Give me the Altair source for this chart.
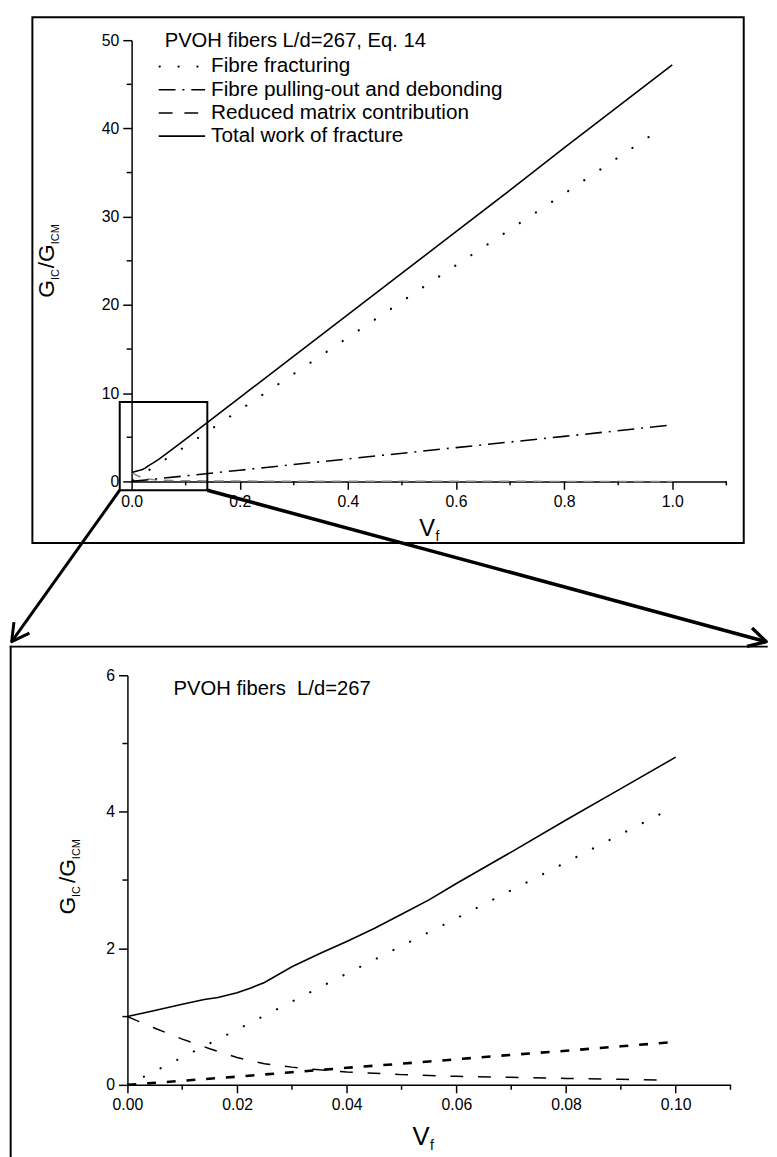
import math
import altair as alt
import pandas as pd

# ---------------- values ----------------
# upper panel (Vf from 0 to 1)
top_total_vf = [0.0, 0.005, 0.01, 0.015, 0.02, 0.025, 0.03, 0.04, 0.05, 0.07, 0.1, 0.2, 0.3, 0.4, 0.5, 0.6, 0.7, 0.8, 0.9, 1.0]
top_total_g = [1.0, 1.09, 1.18, 1.26, 1.35, 1.50, 1.73, 2.10, 2.50, 3.41, 4.80, 9.5, 14.2, 18.9, 23.6, 28.3, 33.0, 37.8, 42.5, 47.2]
top_frac_vf = [0.003, 0.1, 0.2, 0.4, 0.6, 0.8, 0.98]
top_frac_g = [0.12, 4.0, 8.1, 16.3, 24.5, 32.6, 40.0]
top_pull_vf = [0.0, 0.1, 0.2, 0.4, 0.6, 0.8, 1.0]
top_pull_g = [0.0, 0.63, 1.27, 2.55, 3.83, 5.1, 6.4]
top_red_vf = [0.0, 0.01, 0.02, 0.03, 0.05, 0.1, 0.2, 0.4, 0.7, 1.0]
top_red_g = [1.0, 0.67, 0.40, 0.26, 0.15, 0.07, 0.035, 0.015, 0.005, 0.0]
zoom_vf = [-0.022, 0.14]      # zoomed region marked on the upper panel
zoom_g = [-1.0, 9.0]
top_x_major = [0.0, 0.2, 0.4, 0.6, 0.8, 1.0]
top_x_minor = [0.1, 0.3, 0.5, 0.7, 0.9, 1.1]
top_y_major = [0, 10, 20, 30, 40, 50]
top_y_minor = [5, 15, 25, 35, 45]

# lower panel (Vf from 0 to 0.1)
bot_total_vf = [0.0, 0.005, 0.01, 0.014, 0.0165, 0.02, 0.0225, 0.025, 0.03, 0.035, 0.04, 0.045, 0.05, 0.055, 0.06, 0.07, 0.08, 0.09, 0.1]
bot_total_g = [1.0, 1.09, 1.18, 1.25, 1.28, 1.35, 1.42, 1.50, 1.73, 1.92, 2.10, 2.29, 2.50, 2.71, 2.95, 3.41, 3.88, 4.34, 4.80]
bot_frac_vf = [0.003, 0.02, 0.04, 0.06, 0.08, 0.098]
bot_frac_g = [0.12, 0.81, 1.63, 2.44, 3.26, 4.0]
bot_pull_vf = [0.0, 0.01, 0.02, 0.03, 0.04, 0.05, 0.06, 0.07, 0.08, 0.09, 0.1]
bot_pull_g = [0.0, 0.06, 0.12, 0.185, 0.25, 0.31, 0.375, 0.44, 0.50, 0.565, 0.63]
bot_red_vf = [0.0, 0.005, 0.01, 0.015, 0.02, 0.025, 0.03, 0.035, 0.04, 0.05, 0.06, 0.07, 0.08, 0.09, 0.098]
bot_red_g = [1.0, 0.83, 0.67, 0.53, 0.40, 0.31, 0.26, 0.22, 0.19, 0.15, 0.125, 0.11, 0.095, 0.082, 0.07]
bot_x_major = [0.0, 0.02, 0.04, 0.06, 0.08, 0.10]
bot_x_minor = [0.01, 0.03, 0.05, 0.07, 0.09, 0.11]
bot_y_major = [0, 2, 4, 6]
bot_y_minor = [1, 3, 5]

legend_labels = ["Fibre fracturing", "Fibre pulling-out and debonding",
                 "Reduced matrix contribution", "Total work of fracture"]
top_note = "PVOH fibers L/d=267, Eq. 14"
bot_note = "PVOH fibers\u00a0 L/d=267"

# ---------------- layout (page pixels) ----------------
FONT = "Liberation Sans"
W1, H1 = 602.5, 447.0
W2, H2 = 611.0, 415.0
B_OX, B_OY = 128.3, 675.7
T_OX = B_OX + (W2 - W1) / 2
T_OY = 32.3
SPACING = B_OY - (T_OY + H1)


def tx(p):
    return p - T_OX


def ty(p):
    return p - T_OY


def bx(p):
    return p - B_OX


def by(p):
    return p - B_OY


CHAR_W = {"G": 0.778, "I": 0.278, "C": 0.722, "M": 0.833, "/": 0.278, "V": 0.667, "f": 0.278}


def text_w(t, size):
    return sum(CHAR_W.get(c, 0.55) for c in t) * size


DUMMY = pd.DataFrame({"k": [0]})


def text_mark(text, x, y, size, align="left", baseline="middle", angle=0):
    return alt.Chart(DUMMY).mark_text(
        text=text, font=FONT, fontSize=size, align=align, baseline=baseline,
        angle=angle, color="black"
    ).encode(x=alt.value(x), y=alt.value(y))


def seg(x1, y1, x2, y2, width, dash=None, cap="butt", color="black"):
    kw = dict(color=color, strokeWidth=width, strokeCap=cap)
    if dash:
        kw["strokeDash"] = dash
    return alt.Chart(DUMMY).mark_rule(**kw).encode(
        x=alt.value(x1), y=alt.value(y1), x2=alt.value(x2), y2=alt.value(y2))


def axis_major(values, fmt, tick):
    return alt.Axis(values=values, format=fmt, tickSize=tick, title=None,
                    grid=False, labelFont=FONT, labelFontSize=16, labelColor="black",
                    labelPadding=4, labelFlush=False, domainColor="black", domainWidth=1.5,
                    tickColor="black", tickWidth=1.5)


def minor_x_ticks(vals, xenc_field, height, size):
    df = pd.DataFrame({"vf": vals})
    return alt.Chart(df).mark_rule(color="black", strokeWidth=1.5).encode(
        x=xenc_field, y=alt.value(height), y2=alt.value(height + size))


def minor_y_ticks(vals, yenc_field, size):
    df = pd.DataFrame({"g": vals})
    return alt.Chart(df).mark_rule(color="black", strokeWidth=1.5).encode(
        y=yenc_field, x=alt.value(0), x2=alt.value(-size))


def line(vf, g, xenc, yenc, width, dash=None, cap="butt", color="black"):
    kw = dict(color=color, strokeWidth=width, strokeCap=cap)
    if dash:
        kw["strokeDash"] = dash
    df = pd.DataFrame({"vf": vf, "g": g})
    return alt.Chart(df).mark_line(**kw).encode(x=xenc, y=yenc)


def rot_title(pieces, base_x, center_y, fx, fy):
    total = sum(text_w(t, s) + gap for t, s, sh, gap in pieces)
    y = center_y + total / 2
    out = []
    for t, s, sh, gap in pieces:
        y -= gap
        out.append(text_mark(t, fx(base_x + sh), fy(y), s, align="left",
                             baseline="alphabetic", angle=270))
        y -= text_w(t, s)
    return out


def vf_title(x0, base_y, vsize, fsize, fx, fy):
    return [text_mark("V", fx(x0), fy(base_y), vsize, baseline="alphabetic"),
            text_mark("f", fx(x0 + text_w("V", vsize) + 0.5), fy(base_y + 5), fsize,
                      baseline="alphabetic")]


ARROW = "M -1 -0.55 L 0 0 L -1 0.55"


def arrow_head(x, y, ang, width):
    return alt.Chart(DUMMY).mark_point(
        shape=ARROW, filled=False, size=1225, strokeWidth=width, angle=ang,
        strokeJoin="round", color="black", opacity=1
    ).encode(x=alt.value(x), y=alt.value(y))


NO_VIEW = alt.ViewBackground(stroke="transparent", strokeWidth=0, fill="white")

# ---------------- upper panel ----------------
xs_top = alt.Scale(domain=[0, 1.1], nice=False, zero=False)
ys_top = alt.Scale(domain=[0, 50], nice=False, zero=False)
tX = alt.X("vf:Q", scale=xs_top, axis=axis_major(top_x_major, ".1f", 8))
tY = alt.Y("g:Q", scale=ys_top, axis=axis_major(top_y_major, "d", 9))

top_layers = [
    line(top_red_vf, top_red_g, tX, tY, 1.5, dash=[10, 7], color="#8a8a8a"),
    line(top_pull_vf, top_pull_g, tX, tY, 1.6, dash=[17, 7, 2, 7]),
    line(top_frac_vf, top_frac_g, tX, tY, 2.2, dash=[0.1, 19.5], cap="round"),
    line(top_total_vf, top_total_g, tX, tY, 1.6),
    minor_x_ticks(top_x_minor, tX, H1, 4),
    minor_y_ticks(top_y_minor, tY, 5),
]

zoom_df = pd.DataFrame({"vf": [zoom_vf[0]], "vf2": [zoom_vf[1]], "g": [zoom_g[0]], "g2": [zoom_g[1]]})
zoom_rect = alt.Chart(zoom_df).mark_rect(fillOpacity=0, stroke="black", strokeWidth=2).encode(
    x=tX, x2="vf2:Q", y=tY, y2="g2:Q")

# arrows from the zoom box down to the lower panel
L_TIP = (11.0, 641.7)
R_TIP = (775.5, 641.7)
corner_l = pd.DataFrame({"vf": [zoom_vf[0]], "g": [zoom_g[0]]})
corner_r = pd.DataFrame({"vf": [zoom_vf[1]], "g": [zoom_g[0]]})
arrow_l = alt.Chart(corner_l).mark_rule(color="black", strokeWidth=3).encode(
    x=tX, y=tY, x2=alt.value(tx(L_TIP[0])), y2=alt.value(ty(L_TIP[1])))
arrow_r = alt.Chart(corner_r).mark_rule(color="black", strokeWidth=3.6).encode(
    x=tX, y=tY, x2=alt.value(tx(R_TIP[0])), y2=alt.value(ty(R_TIP[1])))
# corners in page pixels, for the arrow-head direction only
cl = (T_OX + (zoom_vf[0] / 1.1) * W1, T_OY + H1 * (1 - zoom_g[0] / 50))
cr = (T_OX + (zoom_vf[1] / 1.1) * W1, cl[1])
ang_l = math.degrees(math.atan2(L_TIP[1] - cl[1], L_TIP[0] - cl[0]))
ang_r = math.degrees(math.atan2(R_TIP[1] - cr[1], R_TIP[0] - cr[0]))
head_l = arrow_head(tx(L_TIP[0]), ty(L_TIP[1]), ang_l % 360, 3)
head_r = arrow_head(tx(R_TIP[0]), ty(R_TIP[1]), ang_r % 360, 3.4)

frame_top = alt.Chart(DUMMY).mark_rect(fillOpacity=0, stroke="black", strokeWidth=2).encode(
    x=alt.value(tx(32)), x2=alt.value(tx(752.7)), y=alt.value(ty(9)), y2=alt.value(ty(541.7)))

# legend block
leg = [text_mark(top_note, tx(166), ty(33.5), 20.5)]
rows = [59, 82.5, 106, 129.5]
leg.append(seg(tx(161), ty(rows[0]), tx(201), ty(rows[0]), 2.2, dash=[0.1, 19], cap="round"))
leg.append(seg(tx(160), ty(rows[1]), tx(207), ty(rows[1]), 1.6, dash=[17, 7, 2, 7]))
leg.append(seg(tx(160), ty(rows[2]), tx(200), ty(rows[2]), 1.6, dash=[14, 12]))
leg.append(seg(tx(160), ty(rows[3]), tx(207), ty(rows[3]), 1.6))
for lab, r in zip(legend_labels, rows):
    leg.append(text_mark(lab, tx(213), ty(r), 21))

top_ytitle = rot_title([("G", 23, 0, 0), ("IC", 11, 5, 0), ("/G", 23, 0, 1), ("ICM", 11, 5, 0)],
                       54, 256, tx, ty)
top_xtitle = vf_title(424, 535, 24, 14, tx, ty)

top = alt.layer(*top_layers, zoom_rect, frame_top, arrow_l, arrow_r, head_l, head_r,
                *leg, *top_ytitle, *top_xtitle).properties(width=W1, height=H1, view=NO_VIEW)

# ---------------- lower panel ----------------
xs_bot = alt.Scale(domain=[0, 0.11], nice=False, zero=False)
ys_bot = alt.Scale(domain=[0, 6], nice=False, zero=False)
bX = alt.X("vf:Q", scale=xs_bot, axis=axis_major(bot_x_major, ".2f", 8))
bY = alt.Y("g:Q", scale=ys_bot, axis=axis_major(bot_y_major, "d", 9))

bot_layers = [
    line(bot_red_vf, bot_red_g, bX, bY, 1.5, dash=[13, 15]),
    line(bot_pull_vf, bot_pull_g, bX, bY, 2.6, dash=[9, 11]),
    line(bot_frac_vf, bot_frac_g, bX, bY, 2.2, dash=[0.1, 18.8], cap="round"),
    line(bot_total_vf, bot_total_g, bX, bY, 1.6),
    minor_x_ticks(bot_x_minor, bX, H2, 5),
    minor_y_ticks(bot_y_minor, bY, 5),
]
frame_b = [
    seg(bx(10), by(646.7), bx(776), by(646.7), 2, cap="square"),
    seg(bx(10), by(646.7), bx(10), by(1165), 2, cap="square"),
]
bot_txt = [text_mark(bot_note, bx(175), by(690), 20.5)]
bot_ytitle = rot_title([("G", 23, 0, 0), ("IC", 11, 5, 0), ("/G", 23, 0, 3), ("ICM", 11, 5, 0)],
                       75, 880, bx, by)
bot_xtitle = vf_title(417, 1152, 26, 14, bx, by)

bot = alt.layer(*bot_layers, *frame_b, *bot_txt, *bot_ytitle, *bot_xtitle).properties(
    width=W2, height=H2, view=NO_VIEW)

chart = alt.vconcat(top, bot, spacing=SPACING, center=True, bounds="flush").properties(
    padding={"left": 1, "top": 0, "right": 0, "bottom": 0}
).configure_view(stroke="transparent", strokeWidth=0).configure_axis(grid=False).configure(font=FONT)

chart.save("out.html", embed_options={"renderer": "svg", "actions": False})
